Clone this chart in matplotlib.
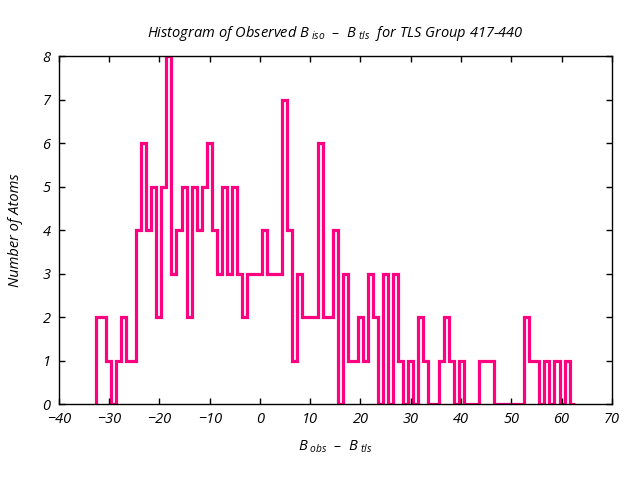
#Histogram of observed B_iso - B_tls for a TLS group, drawn as a step outline
import numpy as np
import matplotlib.pyplot as plt

plt.rcParams['font.family'] = ['Open Sans', 'DejaVu Sans']
plt.rcParams['font.style'] = 'italic'
plt.rcParams['mathtext.fontset'] = 'custom'
plt.rcParams['mathtext.it'] = 'Open Sans:italic'
plt.rcParams['mathtext.rm'] = 'Open Sans:italic'

# Bins (width ~1 starting at the lowest value)
bin_start = -32.65
bin_width = 1.0026
counts = [2, 2, 1, 0, 1, 2, 1, 1, 4, 6, 4, 5, 2, 5, 8, 3, 4,
          5, 2, 5, 4, 5, 6, 4, 3, 5, 3, 5, 3, 2, 3, 3, 3, 4,
          3, 3, 3, 7, 4, 1, 3, 2, 2, 2, 6, 2, 2, 4, 0, 3, 1,
          1, 2, 1, 3, 2, 0, 3, 0, 3, 1, 0, 1, 0, 2, 1, 0, 0,
          1, 2, 1, 0, 1, 0, 0, 0, 1, 1, 1, 0, 0, 0, 0, 0, 0,
          2, 1, 1, 0, 1, 0, 1, 0, 1, 0]
edges = bin_start + bin_width*np.arange(len(counts) + 1)

xticks = np.arange(-40, 71, 10)
yticks = np.arange(0, 9, 1)

fig = plt.figure(figsize=(6.4, 4.8), dpi=100)
ax = fig.add_axes([0.092, 0.158, 0.864, 0.725])

ax.stairs(counts, edges, baseline=0, color='#ff0080', linewidth=2.3)

ax.set_xlim(-40, 70)
ax.set_ylim(0, 8)
ax.set_xticks(xticks)
ax.set_yticks(yticks)
ax.tick_params(direction='in', length=4, width=1, top=True, right=True,
               labelsize=10.5, pad=6)
for s in ax.spines.values():
    s.set_linewidth(1)

ax.set_title(r'Histogram of Observed $B_{\ iso}$  –  $B_{\ tls}$  for TLS Group 417-440',
             fontsize=10.5, pad=14)
ax.set_xlabel(r'$B_{\ obs}$  –  $B_{\ tls}$', fontsize=10.5, labelpad=8)
ax.set_ylabel('Number of Atoms', fontsize=10.5, labelpad=14)

fig.savefig('out.png', dpi=100)
